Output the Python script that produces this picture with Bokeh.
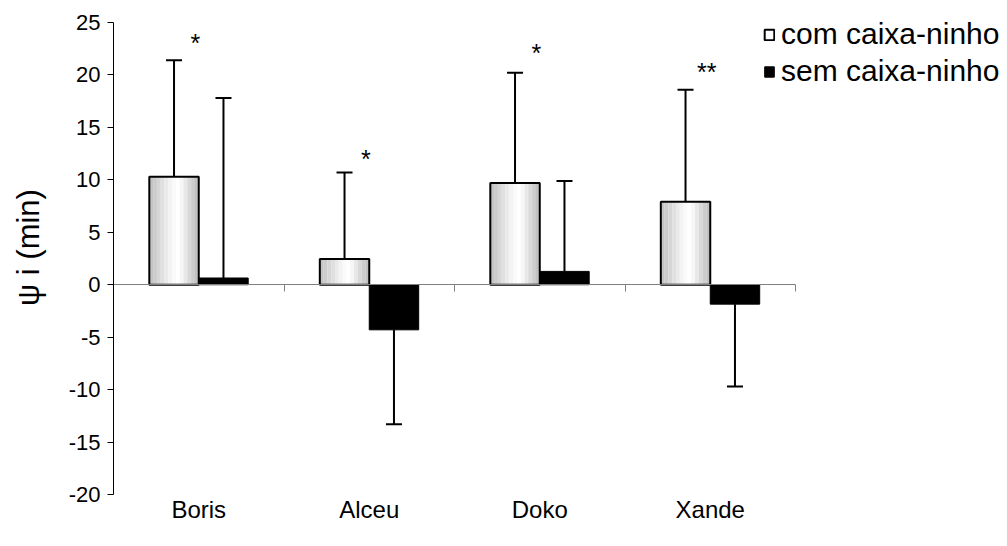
from bokeh.plotting import figure
from bokeh.models import (Range1d, FixedTicker, LinearAxis, Whisker, TeeHead,
                          ColumnDataSource, Legend, LegendItem)
from bokeh.core.properties import value
from bokeh.embed import file_html
from bokeh.resources import INLINE

# ---- data ----
categories = ["Boris", "Alceu", "Doko", "Xande"]
com_vals = [10.3, 2.45, 9.7, 7.9]          # com caixa-ninho
com_err = [11.1, 8.25, 10.5, 10.7]
sem_vals = [0.64, -4.3, 1.27, -1.85]       # sem caixa-ninho
sem_err = [17.16, 9.0, 8.63, 7.85]
sig_labels = ["*", "*", "*", "**"]
sig_y = [23.4, 12.4, 22.5, 20.7]
y_ticks = [-20, -15, -10, -5, 0, 5, 10, 15, 20, 25]

FONT = "Liberation Sans"
BW = 0.29  # bar width in category units
CAT_PX = 170.5  # pixel width of one category

ncat = len(categories)
centers = [i + 0.5 for i in range(ncat)]
com_x = [c - BW / 2 for c in centers]
sem_x = [c + BW / 2 for c in centers]

W, H = 1007, 546
LEFT, TOP, BOTTOM = 113, 22, 52
AX_H = H - TOP - BOTTOM
y0, y1 = y_ticks[0], y_ticks[-1]
ppu = AX_H / (y1 - y0)
x_end = (W - LEFT) / CAT_PX        # frame runs to the right edge
y_end = y1 + TOP / ppu             # frame runs to the top edge; axis bounded to ticks

p = figure(width=W, height=H, output_backend="svg", toolbar_location=None,
           x_range=Range1d(0, x_end), y_range=Range1d(y0, y_end),
           min_border_left=LEFT, min_border_right=0, min_border_top=0,
           min_border_bottom=BOTTOM)
p.outline_line_color = None
p.xgrid.visible = False
p.ygrid.visible = False
p.background_fill_color = "white"
p.border_fill_color = "white"

# ---- y axis ----
ya = p.yaxis[0]
ya.ticker = FixedTicker(ticks=y_ticks)
ya.bounds = (y0, y1)
ya.major_label_overrides = {t: str(t) for t in y_ticks}
ya.axis_line_color = "black"
ya.major_tick_line_color = "black"
ya.major_tick_in = 0
ya.major_tick_out = 6
ya.minor_tick_line_color = None
ya.major_label_text_font = FONT
ya.major_label_text_font_size = "22px"
ya.major_label_text_color = "black"
ya.major_label_standoff = 7
ya.axis_label = "\u03c8 i (min)"
ya.axis_label_text_font = FONT
ya.axis_label_text_font_size = "31px"
ya.axis_label_text_font_style = "normal"
ya.axis_label_text_color = "black"
ya.axis_label_standoff = 20

# ---- category axis at bottom (labels only) ----
xa = p.xaxis[0]
xa.ticker = FixedTicker(ticks=centers)
xa.major_label_overrides = {c: name for c, name in zip(centers, categories)}
xa.axis_line_color = None
xa.major_tick_line_color = None
xa.minor_tick_line_color = None
xa.major_tick_out = 0
xa.major_tick_in = 0
xa.major_label_standoff = 1
xa.major_label_text_font = FONT
xa.major_label_text_font_size = "24px"
xa.major_label_text_color = "black"

# ---- zero line axis with ticks between categories ----
bounds = [i + 1 for i in range(ncat)]
za = LinearAxis(fixed_location=0, ticker=FixedTicker(ticks=bounds), bounds=(0, ncat),
                major_label_overrides={b: "" for b in bounds},
                axis_line_color="#808080", major_tick_line_color="#808080",
                minor_tick_line_color=None, major_tick_in=0, major_tick_out=7,
                major_label_text_font_size="10px")
p.add_layout(za, "below")

# ---- bars: com caixa-ninho with a cylinder-like gray gradient ----
grad = ["#c4c4c4", "#cccccc", "#d6d6d6", "#e0e0e0", "#eaeaea", "#f3f3f3", "#fafafa",
        "#ffffff", "#f6f6f6", "#e8e8e8", "#d9d9d9", "#cdcdcd", "#c2c2c2"]
n = len(grad)
sw = BW / n
strip_renderers = []
for k, col in enumerate(grad):
    xs = [cx - BW / 2 + (k + 0.5) * sw for cx in com_x]
    r = p.vbar(x=xs, width=sw * 1.02, top=com_vals, bottom=0,
               fill_color=col, line_color=None)
    strip_renderers.append(r)
com_outline = p.vbar(x=com_x, width=BW, top=com_vals, bottom=0,
                     fill_color=None, line_color="black", line_width=2)

sem_bars = p.vbar(x=sem_x, width=BW, top=sem_vals, bottom=0,
                  fill_color="black", line_color="black", line_width=1)

# ---- error bars (one-sided, away from zero) ----
def whiskers(xs, vals, errs):
    up = dict(base=[], lower=[], upper=[])
    dn = dict(base=[], lower=[], upper=[])
    for x, v, e in zip(xs, vals, errs):
        if v >= 0:
            up["base"].append(x); up["lower"].append(v); up["upper"].append(v + e)
        else:
            dn["base"].append(x); dn["lower"].append(v - e); dn["upper"].append(v)
    return up, dn

for xs, vals, errs in [(com_x, com_vals, com_err), (sem_x, sem_vals, sem_err)]:
    up, dn = whiskers(xs, vals, errs)
    if up["base"]:
        p.add_layout(Whisker(source=ColumnDataSource(up), base="base", lower="lower",
                             upper="upper", dimension="height", line_color="black",
                             line_width=2, lower_head=None,
                             upper_head=TeeHead(size=16, line_width=2, line_color="black")))
    if dn["base"]:
        p.add_layout(Whisker(source=ColumnDataSource(dn), base="base", lower="lower",
                             upper="upper", dimension="height", line_color="black",
                             line_width=2, upper_head=None,
                             lower_head=TeeHead(size=16, line_width=2, line_color="black")))

# ---- significance marks ----
p.text(x=[c - 0.02 for c in centers], y=sig_y, text=sig_labels,
       text_font=value(FONT), text_font_size="25px", text_align="center",
       text_baseline="middle", text_color="black", y_offset=4)

# ---- legend ----
legend = Legend(items=[
    LegendItem(label="com caixa-ninho", renderers=[strip_renderers[7], com_outline]),
    LegendItem(label="sem caixa-ninho", renderers=[sem_bars]),
], location=(650, 406))
legend.border_line_color = None
legend.background_fill_alpha = 0
legend.label_text_font = FONT
legend.label_text_font_size = "30px"
legend.label_text_color = "black"
legend.glyph_width = 12
legend.glyph_height = 13
legend.label_standoff = 6
legend.spacing = 3
legend.padding = 0
legend.margin = 0
p.add_layout(legend, "center")

open("out.html", "w").write(file_html(p, INLINE))
